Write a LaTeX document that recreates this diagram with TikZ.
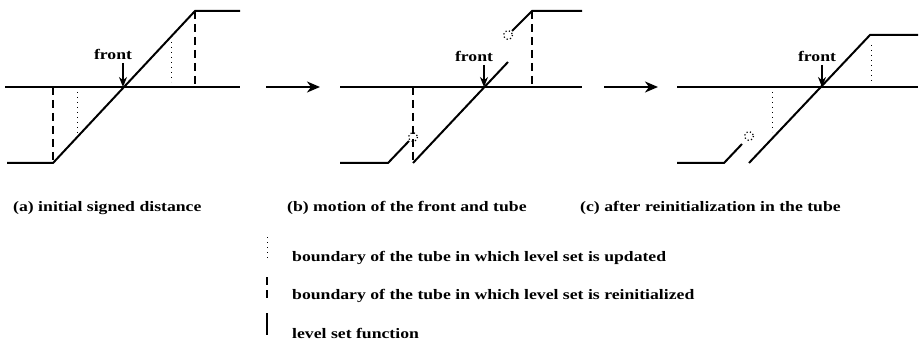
\documentclass[tikz,border=0pt]{standalone}
\usepackage{fontspec}
\setmainfont{Liberation Serif}
\newfontfamily\widefont[FakeStretch=1.22]{Liberation Serif}
\usetikzlibrary{arrows.meta}
\begin{document}
\begin{tikzpicture}[x=1pt,y=-1pt,
  lsf/.style={line width=2pt,line join=miter},
  axisline/.style={line width=2pt},
  tubere/.style={line width=2pt,dash pattern=on 8pt off 5pt},
  tubeup/.style={line width=1pt,dash pattern=on 1pt off 4pt},
  ring/.style={line width=1.2pt,dash pattern=on 1.2pt off 2.4pt},
  frontarrow/.style={line width=1.8pt,-{Stealth[length=10pt,width=8pt]}},
  panelarrow/.style={line width=2pt,-{Stealth[length=13pt,width=11pt,inset=4pt]}},
  lbl/.style={font=\widefont\bfseries\fontsize{14.5}{16}\selectfont,inner sep=0pt},
  caption/.style={font=\widefont\bfseries\fontsize{14.5}{16}\selectfont,inner sep=0pt,anchor=west}]
\useasboundingbox (0,0) rectangle (924,342);

% ---------- panel (a)
\coordinate (aL) at (5,87);   \coordinate (aR) at (240,87);
\coordinate (a1) at (7,163);  \coordinate (a2) at (53,163);
\coordinate (a3) at (195,11); \coordinate (a4) at (240,11);
\coordinate (aD1) at (53,87); \coordinate (aD2) at (195,87);
\coordinate (aU1) at (77,92); \coordinate (aU2) at (77,133);
\coordinate (aU3) at (171,42);\coordinate (aU4) at (171,82);
\coordinate (aF) at (123,87);
\draw[axisline] (aL) -- (aR);
\draw[lsf] (a1) -- (a2) -- (a3) -- (a4);
\draw[tubere] (aD1) -- (a2);
\draw[tubere] (a3) -- (aD2);
\draw[tubeup] (aU1) -- (aU2);
\draw[tubeup] (aU3) -- (aU4);
\node[lbl] (fa) at (113,54) {front};
\coordinate (faS) at (123,63);
\draw[frontarrow] (faS) -- (aF);

% ---------- arrow a -> b
\coordinate (p1s) at (266,87); \coordinate (p1e) at (320,87);
\draw[panelarrow] (p1s) -- (p1e);

% ---------- panel (b)
\coordinate (bL) at (340,87);  \coordinate (bR) at (582,87);
\coordinate (b1) at (340,163); \coordinate (b2) at (388,163);
\coordinate (b3) at (409,141); \coordinate (bC1) at (413,137);
\coordinate (b4) at (413,163); \coordinate (b5) at (508,62);
\coordinate (bC2) at (508,35); \coordinate (b6) at (512,31);
\coordinate (b7) at (532,11);  \coordinate (b8) at (582,11);
\coordinate (bD1) at (413,87); \coordinate (bD2) at (532,87);
\coordinate (bF) at (484,87);
\draw[axisline] (bL) -- (bR);
\draw[lsf] (b1) -- (b2) -- (b3);
\draw[lsf] (b4) -- (b5);
\draw[lsf] (b6) -- (b7) -- (b8);
\draw[tubere] (bD1) -- (b4);
\draw[tubere] (b7) -- (bD2);
\draw[ring] (bC1) circle[radius=4.5];
\draw[ring] (bC2) circle[radius=4.5];
\node[lbl] (fb) at (474,56) {front};
\coordinate (fbS) at (484,65);
\draw[frontarrow] (fbS) -- (bF);

% ---------- arrow b -> c
\coordinate (p2s) at (604,87); \coordinate (p2e) at (658,87);
\draw[panelarrow] (p2s) -- (p2e);

% ---------- panel (c)
\coordinate (cL) at (677,87);  \coordinate (cR) at (918,87);
\coordinate (c1) at (677,163); \coordinate (c2) at (724,163);
\coordinate (c3) at (742,144); \coordinate (cC) at (749,136);
\coordinate (c4) at (749,163); \coordinate (c5) at (870,35);
\coordinate (c6) at (918,35);
\coordinate (cU1) at (772,92); \coordinate (cU2) at (772,132);
\coordinate (cU3) at (871,45); \coordinate (cU4) at (871,82);
\coordinate (cF) at (822,87);
\draw[axisline] (cL) -- (cR);
\draw[lsf] (c1) -- (c2) -- (c3);
\draw[lsf] (c4) -- (c5) -- (c6);
\draw[tubeup] (cU1) -- (cU2);
\draw[tubeup] (cU3) -- (cU4);
\draw[ring] (cC) circle[radius=4.5];
\node[lbl] (fc) at (817,56) {front};
\coordinate (fcS) at (822,65);
\draw[frontarrow] (fcS) -- (cF);

% ---------- captions
\node[caption] (capa) at (13,208) {(a) initial signed distance};
\node[caption] (capb) at (287,208) {(b) motion of the front and tube};
\node[caption] (capc) at (580,208) {(c) after reinitialization in the tube};

% ---------- legend
\coordinate (l1a) at (267,237); \coordinate (l1b) at (267,258);
\coordinate (l2a) at (267,277); \coordinate (l2b) at (267,298);
\coordinate (l3a) at (267,313); \coordinate (l3b) at (267,335);
\draw[tubeup] (l1a) -- (l1b);
\draw[tubere] (l2a) -- (l2b);
\draw[lsf] (l3a) -- (l3b);
\node[caption] (t1) at (292,258) {boundary of the tube in which level set is updated};
\node[caption] (t2) at (292,296) {boundary of the tube in which level set is reinitialized};
\node[caption] (t3) at (292,333) {level set function};
\end{tikzpicture}
\end{document}
